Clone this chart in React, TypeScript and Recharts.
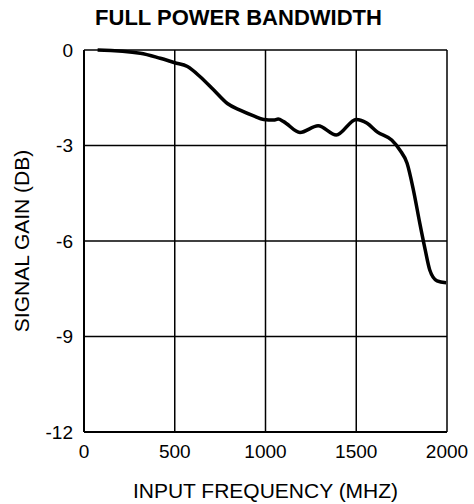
import { LineChart, Line, XAxis, YAxis, CartesianGrid, Label } from "recharts";

const freqMhz = [75, 310, 420, 500, 570, 640, 715, 790, 860, 935, 990, 1045, 1070, 1100, 1190, 1290, 1390, 1500, 1560, 1615, 1695, 1740, 1780, 1815, 1850, 1880, 1905, 1945, 1995];
const gainDb = [0, -0.1, -0.26, -0.4, -0.52, -0.84, -1.26, -1.68, -1.89, -2.07, -2.18, -2.2, -2.17, -2.25, -2.59, -2.38, -2.67, -2.18, -2.3, -2.57, -2.83, -3.14, -3.56, -4.4, -5.44, -6.28, -6.91, -7.25, -7.31];

const xTicks = [0, 500, 1000, 1500, 2000];
const yTicks = [0, -3, -6, -9, -12];

const data = freqMhz.map((f, i) => ({ f, gain: gainDb[i] }));

const font = "'Liberation Sans', Arial, sans-serif";
const tickStyle = { fill: "#000", fontSize: 19, fontFamily: font };

export default function App() {
  return (
    <div style={{ position: "absolute", left: 0, top: 0, width: 474, height: 504, background: "#fff" }}>
      <div
        style={{
          position: "absolute",
          top: 5,
          left: 0,
          width: 477,
          textAlign: "center",
          fontFamily: font,
          fontWeight: "bold",
          fontSize: 22,
          color: "#000",
          zIndex: 1,
        }}
      >
        FULL POWER BANDWIDTH
      </div>
      <LineChart
        width={474}
        height={504}
        data={data}
        margin={{ top: 50, right: 27, bottom: 0, left: 0 }}
      >
        <CartesianGrid stroke="#000" strokeWidth={1.5} />
        <XAxis
          dataKey="f"
          type="number"
          domain={[0, 2000]}
          ticks={xTicks}
          interval={0}
          tick={tickStyle}
          tickLine={false}
          axisLine={{ stroke: "#000", strokeWidth: 2 }}
          tickMargin={7}
          height={72}
        >
          <Label
            value="INPUT FREQUENCY (MHZ)"
            position="insideBottom"
            offset={6}
            style={{ fill: "#000", fontSize: 21, fontFamily: font }}
          />
        </XAxis>
        <YAxis
          type="number"
          domain={[-12, 0]}
          ticks={yTicks}
          interval={0}
          tick={tickStyle}
          tickLine={false}
          axisLine={{ stroke: "#000", strokeWidth: 2 }}
          tickMargin={5}
          width={84}
        >
          <Label
            value="SIGNAL GAIN (DB)"
            angle={-90}
            position="insideLeft"
            offset={22}
            style={{ fill: "#000", fontSize: 21, fontFamily: font, textAnchor: "middle" }}
          />
        </YAxis>
        <Line
          type="monotone"
          dataKey="gain"
          stroke="#000"
          strokeWidth={3.5}
          dot={false}
          isAnimationActive={false}
        />
      </LineChart>
    </div>
  );
}
